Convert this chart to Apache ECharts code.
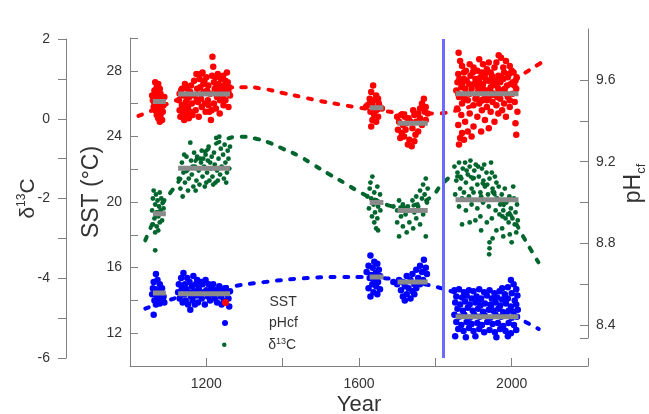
<!DOCTYPE html>
<html>
<head>
<meta charset="utf-8">
<script src="https://cdn.jsdelivr.net/npm/echarts@6/dist/echarts.min.js"></script>
<style>
  html, body { margin: 0; padding: 0; background: #ffffff; }
  #chart { width: 649px; height: 414px; }
</style>
</head>
<body>
<div id="chart"></div>
<script>
const FONT = '"Liberation Sans", Arial, Helvetica, sans-serif';

// Tick labels shown on each axis
const xTickLabels = [1200, 1600, 2000];
const sstTickLabels = [12, 16, 20, 24, 28];
const d13cTickLabels = [-6, -4, -2, 0, 2];
const phTickLabels = [8.4, 8.8, 9.2, 9.6];
const phTicks = [8.3363, 8.4, 8.6, 8.8, 9.0, 9.2, 9.4, 9.6];
const phAxisMin = 8.3363, phAxisMax = 9.8498;

// Year of the vertical divider
const dividerYear = 1820;

// SST (°C) samples, [year, value]
const sstData = [
  // ~1060-1090
  [1066,27.3],[1074,27.2],[1070,27.0],[1078,26.9],[1064,26.8],[1072,26.7],[1080,26.6],[1062,26.5],[1068,26.4],[1076,26.4],
  [1084,26.3],[1060,26.2],[1070,26.1],[1086,26.1],[1064,26.0],[1078,25.9],[1088,25.9],[1062,25.8],[1072,25.7],[1082,25.7],
  [1066,25.6],[1076,25.5],[1086,25.5],[1070,25.3],[1080,25.3],[1074,25.1],[1084,25.0],[1078,24.9],[1068,25.8],[1090,26.4],
  [1058,26.5],[1074,26.6],
  // ~1125-1265
  [1128,26.2],[1130,25.6],[1132,25.2],[1134,26.8],[1136,25.9],[1138,25.4],[1140,26.5],[1142,25.0],[1144,25.7],[1146,26.1],
  [1148,25.3],[1150,26.9],[1152,25.8],[1154,25.1],[1156,26.4],[1158,25.5],[1160,27.1],[1162,26.0],[1164,25.3],[1136,26.9],
  [1144,27.2],[1150,26.3],[1158,26.7],[1130,26.6],[1140,25.3],[1152,25.5],
  [1168,27.4],[1170,26.5],[1172,25.6],[1174,27.8],[1176,26.9],[1178,26.1],[1180,25.2],[1182,27.5],[1184,27.0],[1186,26.3],
  [1188,25.8],[1190,27.9],[1192,27.2],[1194,26.7],[1196,26.0],[1198,25.5],[1200,27.6],[1202,26.8],[1204,26.2],[1206,25.9],
  [1208,25.5],[1210,26.6],[1185,27.8],[1195,27.4],[1175,26.2],[1205,27.1],
  [1212,25.0],[1214,25.6],[1216,28.85],[1218,28.25],[1215,27.7],[1220,27.3],[1222,26.9],[1224,27.6],[1226,27.0],[1228,26.4],
  [1230,27.8],[1232,27.2],[1234,26.7],[1236,26.2],[1238,27.5],[1240,26.9],[1242,26.5],[1244,27.7],[1246,27.1],[1248,26.6],
  [1250,27.4],[1252,26.8],[1254,27.9],[1256,27.3],[1258,26.7],[1260,27.0],[1262,26.5],[1225,25.7],[1235,25.4],[1245,25.9],
  [1220,26.0],[1258,25.8],[1250,26.2],
  // ~1620-1660
  [1637,27.1],[1632,26.7],[1645,26.5],[1628,26.3],[1640,26.2],[1650,26.3],[1622,25.9],[1635,25.9],[1655,25.8],[1618,25.8],
  [1645,25.6],[1630,25.5],[1660,25.7],[1640,25.3],[1650,25.2],[1635,25.0],[1645,24.9],[1632,24.6],[1628,26.0],[1652,26.0],
  [1642,25.7],
  // ~1700-1780
  [1770,26.3],[1765,26.0],[1775,25.8],[1760,25.7],[1772,25.5],[1755,25.4],[1780,25.4],[1700,25.2],[1710,25.3],[1720,25.2],
  [1730,25.1],[1745,25.3],[1760,25.1],[1705,24.9],[1715,24.7],[1725,24.8],[1735,24.9],[1750,24.9],[1765,24.7],[1702,24.4],
  [1712,24.2],[1722,24.4],[1740,24.5],[1755,24.3],[1708,23.9],[1718,24.0],[1732,23.8],[1745,23.7],[1728,23.5],[1738,23.4],
  [1748,24.1],[1775,25.0],[1742,25.6],
  // ~1850-2018
  [1861,29.1],[1966,28.95],[1972,28.8],[1985,28.6],[1940,28.5],[1925,28.4],[1995,28.3],[1870,28.3],[1900,28.2],[1955,28.2],
  [1910,28.0],[1880,28.0],[1945,27.9],[1980,27.9],[2005,27.9],[1860,27.8],[1930,27.8],[1892,27.7],[1965,27.7],[1918,27.6],
  [1990,27.6],[1950,27.5],[1875,27.5],[1905,27.5],[1938,27.4],[2010,27.4],[1970,27.3],[1858,27.3],[1888,27.2],[1925,27.2],
  [1998,27.2],[1960,27.1],[1912,27.0],[1945,27.0],[1868,27.0],[1982,26.9],[1895,26.9],[2012,26.9],[1935,26.8],[1855,26.8],
  [1975,26.8],[1920,26.7],[1880,26.6],[1955,26.6],[2002,26.6],[1908,26.5],[1940,26.4],[1862,26.4],[1990,26.4],[1928,26.3],
  [1970,26.3],[1885,26.2],[1950,26.1],[2008,26.1],[1915,26.0],[1870,26.0],[1980,26.0],[1900,25.9],[1960,25.9],[1935,25.8],
  [1995,25.8],[1857,25.7],[1922,25.6],[1975,25.6],[1945,25.5],[2015,25.5],[1890,25.4],[1965,25.4],[1868,25.3],[1910,25.2],
  [1985,25.2],[1930,25.0],[1878,24.9],[1955,24.9],[2010,24.8],[1860,24.7],[1900,24.6],[1940,24.5],[1885,24.3],[1870,24.2],
  [1920,24.3],[2012,24.1],[1865,23.9],[1895,24.0],[1862,23.5],[1875,23.8],
  [1865,28.6],[1890,28.4],[1915,28.7],[1935,28.1],[1960,28.5],[1978,28.2],[2000,28.0],[1875,27.9],[1898,27.9],[1922,27.9],
  [1948,27.7],[1972,27.6],[1993,27.8],[2013,27.6],[1863,27.5],[1882,27.4],[1915,27.3],[1932,27.5],[1958,27.4],[1978,27.5],
  [2003,27.3],[1870,27.2],[1902,27.2],[1950,27.2],[1988,27.1],[1878,26.9],[1925,26.9],[1965,26.9],[2007,27.1],[1890,26.6],
  [1912,26.7],[1945,26.7],[1985,26.6],[1860,26.6],[1935,26.2],[1905,26.3],[1962,26.4],[1995,26.2],[1875,26.3],[1920,26.2]
];

// Calcifying-fluid pH samples, [year, value]
const phData = [
  // ~1060-1090
  [1068,8.65],[1062,8.61],[1072,8.62],[1078,8.60],[1060,8.58],[1066,8.575],[1076,8.57],[1084,8.58],[1058,8.55],[1070,8.545],
  [1080,8.55],[1088,8.54],[1064,8.52],[1074,8.525],[1086,8.52],[1068,8.5],[1078,8.505],[1090,8.51],[1062,8.45],
  // ~1125-1265
  [1126,8.56],[1128,8.6],[1130,8.53],[1134,8.63],[1136,8.58],[1138,8.51],[1140,8.655],[1142,8.55],[1144,8.6],[1146,8.52],
  [1148,8.575],[1150,8.63],[1152,8.5],[1154,8.56],[1156,8.61],[1158,8.475],[1160,8.54],[1162,8.59],[1164,8.52],[1166,8.64],
  [1168,8.565],[1170,8.5],[1172,8.6],[1174,8.545],[1176,8.62],[1178,8.51],[1180,8.58],[1184,8.55],[1186,8.61],[1188,8.53],
  [1190,8.6],[1192,8.56],[1196,8.5],[1198,8.62],[1200,8.57],[1204,8.54],[1206,8.6],[1210,8.52],[1212,8.575],[1216,8.55],
  [1218,8.6],[1222,8.53],[1224,8.57],[1228,8.51],[1230,8.56],[1234,8.59],[1238,8.54],[1242,8.57],[1246,8.52],[1250,8.58],
  [1254,8.55],[1258,8.53],[1262,8.565],[1260,8.49],[1240,8.5],
  // ~1620-1660
  [1630,8.74],[1640,8.71],[1648,8.70],[1625,8.69],[1636,8.68],[1652,8.67],[1620,8.66],[1644,8.655],[1632,8.645],[1655,8.64],
  [1628,8.63],[1640,8.62],[1650,8.61],[1635,8.6],[1645,8.59],[1625,8.58],[1655,8.575],[1638,8.56],[1648,8.55],[1630,8.54],
  // ~1700-1780
  [1770,8.72],[1760,8.69],[1775,8.68],[1750,8.67],[1765,8.66],[1740,8.65],[1778,8.65],[1725,8.64],[1755,8.63],[1705,8.62],
  [1735,8.62],[1768,8.62],[1715,8.61],[1745,8.6],[1700,8.6],[1760,8.6],[1720,8.59],[1730,8.58],[1750,8.58],[1710,8.57],
  [1740,8.565],[1725,8.55],[1715,8.54],[1735,8.53],[1720,8.52],[1745,8.55],[1690,8.61],
  // ~1850-2018
  [1998,8.62],[2005,8.6],[1975,8.58],[1990,8.585],[2012,8.575],[1850,8.57],[1862,8.575],[1875,8.56],[1888,8.57],[1900,8.565],
  [1915,8.575],[1928,8.56],[1942,8.57],[1955,8.555],[1968,8.565],[1982,8.55],[2000,8.555],[2015,8.545],
  [1855,8.54],[1870,8.535],[1882,8.545],[1895,8.53],[1908,8.54],[1920,8.53],[1935,8.545],[1948,8.53],[1962,8.535],[1975,8.525],
  [1990,8.53],[2008,8.52],
  [1852,8.51],[1865,8.5],[1878,8.515],[1890,8.5],[1905,8.51],[1918,8.495],[1930,8.505],[1945,8.5],[1958,8.51],[1970,8.495],
  [1985,8.505],[1998,8.49],[2012,8.5],
  [1858,8.48],[1872,8.47],[1885,8.485],[1898,8.47],[1912,8.48],[1925,8.465],[1940,8.475],[1952,8.47],[1965,8.48],[1978,8.46],
  [1992,8.47],[2005,8.465],[2016,8.475],
  [1850,8.45],[1862,8.44],[1876,8.45],[1890,8.435],[1902,8.45],[1916,8.44],[1930,8.445],[1944,8.435],[1958,8.45],[1972,8.44],
  [1986,8.445],[2000,8.435],[2014,8.44],
  [1855,8.415],[1868,8.4],[1882,8.415],[1895,8.405],[1910,8.41],[1922,8.4],[1936,8.415],[1950,8.405],[1964,8.41],[1978,8.395],
  [1992,8.41],[2006,8.4],
  [1860,8.38],[1874,8.37],[1888,8.385],[1900,8.37],[1915,8.38],[1928,8.365],[1942,8.375],[1956,8.365],[1970,8.38],[1984,8.37],
  [1998,8.36],[2012,8.375],
  [1852,8.345],[1880,8.34],[1905,8.345],[1932,8.335],[1960,8.34],[1990,8.345],[2010,8.335],
  [1865,8.31],[1895,8.32],[1918,8.305],[1948,8.31],[1975,8.3],[2002,8.315],
  [1885,8.28],[1940,8.27],[1985,8.275],[1962,8.25],[1985,8.24],[2005,8.26]
];

// δ13C samples, [year, value]
const d13cData = [
  // ~1060-1090
  [1062,-1.8],[1068,-1.9],[1078,-1.85],[1060,-2.0],[1072,-2.05],[1082,-2.0],[1066,-2.15],[1076,-2.2],[1086,-2.1],[1058,-2.3],
  [1070,-2.35],[1080,-2.3],[1064,-2.5],[1074,-2.45],[1084,-2.55],[1060,-2.65],[1070,-2.7],[1078,-2.6],[1066,-2.85],[1074,-2.8],
  [1088,-2.25],[1066,-3.3],
  // ~1125-1265
  [1128,-1.5],[1132,-1.75],[1136,-1.1],[1140,-1.35],[1144,-1.6],[1148,-0.95],[1150,-1.25],[1154,-1.5],[1158,-0.6],[1160,-1.05],
  [1162,-1.4],[1166,-1.7],[1168,-0.85],[1170,-1.2],[1174,-1.55],[1176,-0.95],[1180,-1.3],[1182,-1.65],[1186,-1.1],[1188,-0.8],
  [1190,-1.45],[1194,-1.2],[1196,-1.7],[1198,-0.9],[1202,-1.35],[1204,-1.05],[1206,-0.7],[1208,-1.55],[1212,-1.25],[1214,-0.95],
  [1216,-1.45],[1220,-0.85],[1222,-1.15],[1224,-1.6],[1226,-0.48],[1228,-1.3],[1232,-1.0],[1234,-0.45],[1236,-1.4],[1238,-0.75],
  [1240,-1.2],[1244,-0.9],[1246,-1.5],[1248,-0.65],[1250,-1.1],[1254,-1.35],[1256,-0.8],[1258,-1.0],[1260,-1.25],[1262,-0.7],
  [1142,-0.9],[1152,-1.8],[1172,-1.8],[1184,-1.0],[1200,-1.6],[1218,-1.65],[1230,-1.55],[1252,-1.6],[1138,-1.95],[1164,-1.2],
  [1192,-1.0],[1210,-1.1],
  // ~1620-1660
  [1635,-1.45],[1648,-1.7],[1628,-1.75],[1640,-1.85],[1655,-1.9],[1622,-1.95],[1632,-2.0],[1645,-2.05],[1638,-2.15],[1650,-2.2],
  [1626,-2.25],[1642,-2.35],[1634,-2.45],[1648,-2.5],[1640,-2.6],[1645,-2.75],[1650,-2.8],[1630,-1.6],[1656,-2.3],
  // ~1700-1780
  [1775,-1.5],[1768,-1.65],[1780,-1.75],[1760,-1.8],[1772,-1.9],[1750,-1.95],[1765,-2.0],[1705,-2.05],[1740,-2.05],[1778,-2.1],
  [1715,-2.15],[1728,-2.2],[1755,-2.2],[1700,-2.3],[1735,-2.3],[1745,-2.35],[1768,-2.4],[1710,-2.45],[1722,-2.4],[1750,-2.5],
  [1700,-2.6],[1732,-2.6],[1715,-2.7],[1742,-2.75],[1705,-2.95],[1775,-2.95],[1725,-2.85],[1760,-2.65],[1690,-2.2],
  // ~1850-2018
  [1850,-1.2],[1858,-1.35],[1862,-1.1],[1868,-1.5],[1872,-1.25],[1878,-1.1],[1880,-1.6],[1885,-1.4],[1890,-1.2],[1895,-1.75],
  [1898,-1.5],[1902,-1.3],[1906,-1.15],[1910,-1.65],[1914,-1.45],[1918,-1.85],[1922,-1.25],[1926,-1.55],[1930,-1.7],[1934,-1.35],
  [1938,-1.9],[1942,-1.5],[1946,-1.1],[1950,-1.75],[1855,-1.55],[1865,-1.75],[1875,-1.85],[1882,-1.3],[1888,-1.95],[1900,-1.85],
  [1912,-1.2],[1920,-1.95],[1928,-1.15],[1936,-1.65],[1948,-1.35],[1956,-1.45],[1960,-1.6],[1852,-1.9],[1870,-2.0],[1892,-1.05],
  [1954,-1.85],[1962,-2.0],[1966,-1.7],[1970,-2.15],[1974,-1.9],[1978,-2.3],[1982,-1.75],[1986,-2.1],[1990,-2.4],[1994,-1.95],
  [1998,-2.25],[2002,-2.5],[2006,-2.0],[2010,-2.35],[2014,-2.15],[2016,-2.55],[1958,-2.3],[1976,-2.45],[1992,-2.6],[2004,-1.7],
  [1968,-2.4],[1984,-2.5],[2008,-2.65],[1940,-2.2],[1925,-2.1],[1910,-2.25],[1895,-2.15],[1880,-2.3],[1862,-2.2],[1905,-2.55],
  [1918,-2.45],[1935,-2.6],[1948,-2.5],[1890,-2.6],[1870,-2.65],[1960,-2.8],[1975,-2.75],[1995,-2.9],[2000,-3.1],[1978,-2.95],
  [1942,-3.1],[1942,-3.25],[1941,-3.4],[1920,-2.8],[1950,-3.0],[2012,-2.85]
];

// Fitted long-term trends, [year, value]
const sstTrend = [
  [1022,25.25],[1060,25.6],[1105,26.05],[1150,26.45],[1200,26.75],[1250,26.95],[1300,27.0],[1350,26.9],[1400,26.65],
  [1450,26.4],[1500,26.15],[1550,25.95],[1600,25.75],[1650,25.6],[1700,25.45],[1750,25.4],[1800,25.4],[1850,25.55],
  [1900,25.9],[1950,26.45],[2000,27.25],[2037,27.9],[2071,28.4],[2088,28.65]
];
const phTrend = [
  [1040,8.48],[1100,8.52],[1150,8.55],[1200,8.57],[1270,8.59],[1350,8.61],[1450,8.628],[1550,8.635],[1600,8.635],
  [1664,8.63],[1720,8.615],[1770,8.6],[1806,8.585],[1850,8.56],[1900,8.53],[1950,8.49],[2000,8.45],[2031,8.42],[2071,8.38]
];
const d13cTrend = [
  [1040,-3.05],[1060,-2.6],[1080,-2.2],[1110,-1.8],[1150,-1.3],[1200,-0.8],[1250,-0.52],[1290,-0.45],[1330,-0.5],
  [1370,-0.62],[1400,-0.75],[1440,-0.92],[1480,-1.15],[1520,-1.38],[1560,-1.6],[1600,-1.83],[1640,-2.02],[1680,-2.18],
  [1710,-2.22],[1750,-2.15],[1790,-1.95],[1820,-1.62],[1850,-1.45],[1880,-1.45],[1920,-1.6],[1960,-1.95],[2000,-2.45],
  [2030,-2.95],[2050,-3.28],[2070,-3.6]
];

// Interval means, [start year, end year, value]
const sstMeans = [[1060,1094,26.13],[1126,1262,26.58],[1628,1664,25.75],[1701,1780,24.8],[1853,2018,26.6]];
const phMeans = [[1060,1094,8.557],[1126,1262,8.553],[1628,1664,8.635],[1701,1780,8.61],[1853,2018,8.44]];
const d13cMeans = [[1060,1094,-2.38],[1126,1262,-1.24],[1628,1664,-2.1],[1701,1780,-2.3],[1853,2018,-2.03]];

const RED = '#ff0000', BLUE = '#0000ff', GREEN = '#00662e', GREY = '#8a8a8a';
const AXIS = '#808080', TEXT = '#333333';
const DASH = [4, 9.5];

function meanSegments(list) {
  const out = [];
  list.forEach(([a, b, v], i) => {
    if (i > 0) out.push([(a + list[i - 1][1]) / 2, null]);
    out.push([a, v], [b, v]);
  });
  return out;
}
function hasTick(list, v) { return list.some(t => Math.abs(t - v) < 1e-6); }

const chart = echarts.init(document.getElementById('chart'), null, { renderer: 'canvas' });

const hiddenX = (grid) => ({ type: 'value', gridIndex: grid, min: 1000, max: 2200, show: false });

const option = {
  backgroundColor: '#ffffff',
  animation: false,
  textStyle: { fontFamily: FONT },
  grid: [
    // SST / year frame
    { left: 130, right: 61, top: 38, bottom: 48, outerBoundsMode: 'none', containLabel: false },
    // δ13C frame
    { left: 130, right: 61, top: 39, bottom: 56, outerBoundsMode: 'none', containLabel: false },
    // pH frame
    { left: 130, right: 61, top: 29, bottom: 76, outerBoundsMode: 'none', containLabel: false }
  ],
  xAxis: [
    {
      type: 'value', gridIndex: 0, min: 1000, max: 2200, interval: 200,
      name: 'Year', nameLocation: 'middle', nameGap: 28, nameMoveOverlap: false,
      nameTextStyle: { fontSize: 22, color: TEXT, fontFamily: FONT },
      axisLine: { show: true, lineStyle: { color: AXIS, width: 1 } },
      axisTick: { show: true, inside: true, length: 8, lineStyle: { color: AXIS } },
      axisLabel: { margin: 11, fontSize: 14, color: TEXT, fontFamily: FONT,
        formatter: v => hasTick(xTickLabels, v) ? String(v) : '' },
      splitLine: { show: false }
    },
    hiddenX(1),
    hiddenX(2)
  ],
  yAxis: [
    {
      type: 'value', gridIndex: 0, min: 10, max: 30, interval: 2, position: 'left',
      name: 'SST (°C)', nameLocation: 'middle', nameGap: 27, nameMoveOverlap: false,
      nameTextStyle: { fontSize: 23, color: TEXT, fontFamily: FONT, padding: [0, 0, 0, 20] },
      axisLine: { show: true, lineStyle: { color: AXIS, width: 1 } },
      axisTick: { show: true, inside: true, length: 8, lineStyle: { color: AXIS } },
      axisLabel: { margin: 8, fontSize: 14, color: TEXT, fontFamily: FONT,
        formatter: v => hasTick(sstTickLabels, v) ? String(v) : '' },
      splitLine: { show: false }
    },
    {
      type: 'value', gridIndex: 2, min: phAxisMin, max: phAxisMax, position: 'right',
      name: '{a|pH}{s|cf}', nameLocation: 'middle', nameGap: 32, nameMoveOverlap: false,
      nameTextStyle: { color: TEXT, fontFamily: FONT,
        rich: {
          a: { fontSize: 23, color: TEXT, fontFamily: FONT, lineHeight: 28 },
          s: { fontSize: 13, color: TEXT, fontFamily: FONT, lineHeight: 28, verticalAlign: 'bottom', padding: [8, 0, 0, 0] }
        } },
      axisLine: { show: true, lineStyle: { color: AXIS, width: 1 } },
      axisTick: { show: true, inside: true, length: 8, lineStyle: { color: AXIS }, customValues: phTicks },
      axisLabel: { margin: 8, fontSize: 14, color: TEXT, fontFamily: FONT, customValues: phTickLabels,
        formatter: v => hasTick(phTickLabels, v) ? v.toFixed(1) : '' },
      splitLine: { show: false }
    },
    {
      type: 'value', gridIndex: 1, min: -6, max: 2, interval: 1, position: 'left', offset: 64,
      name: '{a|δ}{b|13}{a|C}', nameLocation: 'middle', nameGap: 26, nameMoveOverlap: false,
      nameTextStyle: { color: TEXT, fontFamily: FONT,
        rich: {
          a: { fontSize: 21, color: TEXT, fontFamily: FONT, lineHeight: 24 },
          b: { fontSize: 12, color: TEXT, fontFamily: FONT, lineHeight: 24, verticalAlign: 'top', padding: [0, 0, 8, 0] }
        } },
      axisLine: { show: true, lineStyle: { color: AXIS, width: 1 } },
      axisTick: { show: true, inside: false, length: 8, lineStyle: { color: AXIS } },
      axisLabel: { margin: 16, fontSize: 14, color: TEXT, fontFamily: FONT,
        formatter: v => hasTick(d13cTickLabels, v) ? String(v) : '' },
      splitLine: { show: false }
    }
  ],
  legend: [
    { data: ['SST'], left: 222, top: 295.5, padding: 0, orient: 'vertical', icon: 'circle',
      itemWidth: 78, itemHeight: 7, selectedMode: false,
      textStyle: { fontSize: 14, color: TEXT, fontFamily: FONT } },
    { data: ['pHcf'], left: 222, top: 316, padding: 0, orient: 'vertical', icon: 'circle',
      itemWidth: 78, itemHeight: 6, selectedMode: false,
      textStyle: { fontSize: 14, color: TEXT, fontFamily: FONT } },
    { data: ['δ13C'], left: 222, top: 336.75, padding: 0, orient: 'vertical', icon: 'circle',
      itemWidth: 78, itemHeight: 4.5, selectedMode: false,
      formatter: () => '{a|δ}{b|13}{a|C}',
      textStyle: { fontSize: 14, color: TEXT, fontFamily: FONT,
        rich: {
          a: { fontSize: 14, color: TEXT, fontFamily: FONT, lineHeight: 16 },
          b: { fontSize: 9, color: TEXT, fontFamily: FONT, lineHeight: 16, verticalAlign: 'top', padding: [0, 0, 5, 0] }
        } } }
  ],
  series: [
    { name: 'SST', type: 'scatter', xAxisIndex: 0, yAxisIndex: 0, data: sstData,
      symbol: 'circle', symbolSize: 6.5, itemStyle: { color: RED, opacity: 1 }, z: 2 },
    { name: 'pHcf', type: 'scatter', xAxisIndex: 2, yAxisIndex: 1, data: phData,
      symbol: 'circle', symbolSize: 6.5, itemStyle: { color: BLUE, opacity: 1 }, z: 2 },
    { name: 'δ13C', type: 'scatter', xAxisIndex: 1, yAxisIndex: 2, data: d13cData,
      symbol: 'circle', symbolSize: 4.8, itemStyle: { color: GREEN, opacity: 1 }, z: 2,
      markLine: {
        silent: true, symbol: ['none', 'none'], label: { show: false },
        lineStyle: { color: '#6b6bff', width: 3, type: 'solid' },
        data: [{ xAxis: dividerYear }]
      } },

    { name: 'SST trend', type: 'line', xAxisIndex: 0, yAxisIndex: 0, data: sstTrend, smooth: 0.5,
      showSymbol: false, lineStyle: { color: RED, width: 4, type: DASH, cap: 'round' }, z: 3 },
    { name: 'pH trend', type: 'line', xAxisIndex: 2, yAxisIndex: 1, data: phTrend, smooth: 0.5,
      showSymbol: false, lineStyle: { color: BLUE, width: 4, type: DASH, cap: 'round' }, z: 3 },
    { name: 'δ13C trend', type: 'line', xAxisIndex: 1, yAxisIndex: 2, data: d13cTrend, smooth: 0.5,
      showSymbol: false, lineStyle: { color: GREEN, width: 4, type: DASH, cap: 'round' }, z: 3 },

    { name: 'SST mean', type: 'line', xAxisIndex: 0, yAxisIndex: 0, data: meanSegments(sstMeans),
      showSymbol: false, connectNulls: false, lineStyle: { color: GREY, width: 5 }, z: 4 },
    { name: 'pH mean', type: 'line', xAxisIndex: 2, yAxisIndex: 1, data: meanSegments(phMeans),
      showSymbol: false, connectNulls: false, lineStyle: { color: GREY, width: 5 }, z: 4 },
    { name: 'δ13C mean', type: 'line', xAxisIndex: 1, yAxisIndex: 2, data: meanSegments(d13cMeans),
      showSymbol: false, connectNulls: false, lineStyle: { color: GREY, width: 5 }, z: 4 }
  ]
};

chart.setOption(option);
</script>
</body>
</html>
